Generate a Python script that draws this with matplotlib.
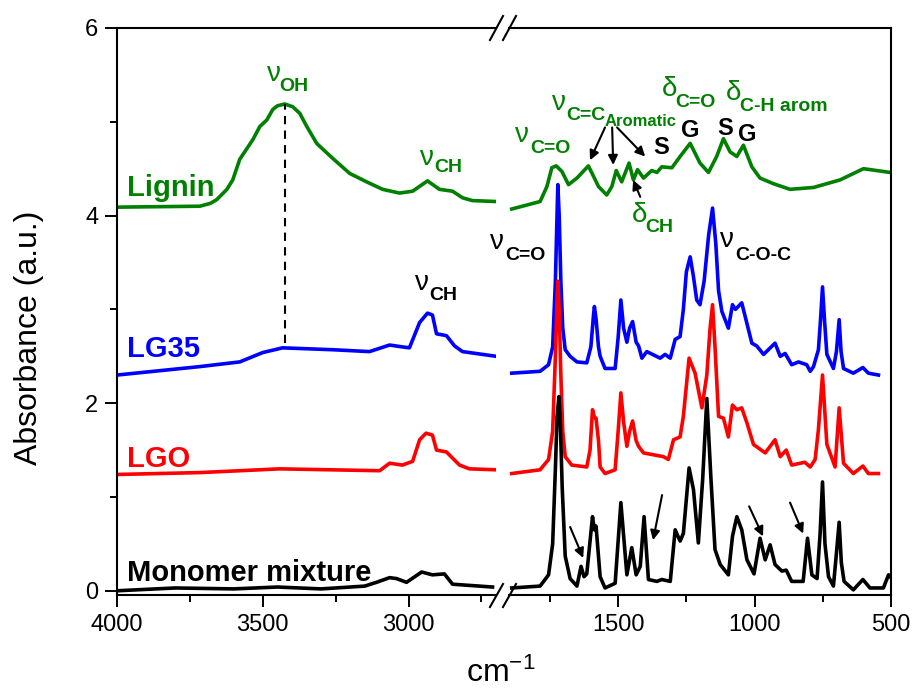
import numpy as np
import matplotlib.pyplot as plt
from matplotlib.lines import Line2D

plt.rcParams['font.family'] = ['Liberation Sans', 'DejaVu Sans']
plt.rcParams['mathtext.fontset'] = 'custom'
plt.rcParams['mathtext.rm'] = 'Liberation Sans'
plt.rcParams['mathtext.it'] = 'Liberation Sans:italic'
plt.rcParams['mathtext.bf'] = 'Liberation Sans:bold'


# ---- spectra, high wavenumber part (4000-2700 cm-1) ----
lignin_hi_wn = [4000, 3716, 3680, 3658, 3623, 3603, 3579, 3534, 3510, 3486, 3466, 3450, 3425,
                3397, 3373, 3349, 3315, 3305, 3260, 3202, 3144, 3089, 3031, 2986, 2935, 2894,
                2849, 2815, 2781, 2700]
lignin_hi_a = [4.09, 4.10, 4.13, 4.17, 4.28, 4.38, 4.60, 4.81, 4.95, 5.02, 5.13, 5.17, 5.19,
               5.16, 5.09, 4.95, 4.77, 4.74, 4.61, 4.45, 4.36, 4.28, 4.24, 4.26, 4.37, 4.28,
               4.26, 4.19, 4.16, 4.15]

lg35_hi_wn = [4000, 3716, 3579, 3500, 3432, 3260, 3134, 3065, 3021, 2997, 2962, 2935, 2918,
              2904, 2870, 2842, 2815, 2700]
lg35_hi_a = [2.30, 2.39, 2.44, 2.54, 2.59, 2.57, 2.55, 2.62, 2.60, 2.59, 2.86, 2.96, 2.94,
             2.74, 2.72, 2.61, 2.55, 2.50]

lgo_hi_wn = [4000, 3716, 3442, 3099, 3065, 3021, 2986, 2962, 2940, 2918, 2904, 2870, 2825,
             2791, 2700]
lgo_hi_a = [1.24, 1.26, 1.30, 1.28, 1.36, 1.34, 1.38, 1.61, 1.68, 1.66, 1.50, 1.48, 1.34,
            1.30, 1.29]

mono_hi_wn = [4000, 3800, 3600, 3450, 3300, 3150, 3110, 3065, 3041, 3007, 2955, 2918, 2877,
              2849, 2712]
mono_hi_a = [0.00, 0.03, 0.02, 0.04, 0.02, 0.05, 0.09, 0.14, 0.13, 0.09, 0.20, 0.17, 0.18,
             0.07, 0.04]

# ---- spectra, fingerprint part (1900-500 cm-1) ----
lignin_lo_wn = [1890, 1786, 1761, 1743, 1727, 1706, 1682, 1651, 1609, 1572, 1542, 1523, 1507,
                1487, 1460, 1444, 1429, 1407, 1377, 1358, 1340, 1303, 1273, 1236, 1200, 1169,
                1139, 1114, 1090, 1065, 1041, 1010, 980, 931, 870, 784, 687, 601, 503]
lignin_lo_a = [4.07, 4.15, 4.31, 4.51, 4.53, 4.47, 4.33, 4.40, 4.53, 4.31, 4.22, 4.31, 4.48,
               4.36, 4.56, 4.38, 4.49, 4.40, 4.48, 4.46, 4.52, 4.51, 4.63, 4.77, 4.56, 4.46,
               4.63, 4.82, 4.68, 4.63, 4.75, 4.52, 4.40, 4.34, 4.28, 4.30, 4.38, 4.50, 4.46]

lg35_lo_wn = [1890, 1786, 1755, 1740, 1730, 1724, 1721, 1716, 1710, 1703, 1694, 1676, 1651,
              1615, 1600, 1590, 1587, 1581, 1572, 1566, 1548, 1511, 1500, 1490, 1480, 1468,
              1458, 1447, 1434, 1425, 1413, 1395, 1346, 1328, 1309, 1291, 1273, 1261, 1250,
              1236, 1224, 1212, 1200, 1185, 1168, 1154, 1142, 1132, 1120, 1096, 1081, 1070,
              1047, 1028, 1010, 992, 967, 925, 906, 888, 864, 839, 809, 796, 784, 766, 758,
              751, 744, 735, 711, 700, 690, 683, 674, 638, 603, 583, 546]
lg35_lo_a = [2.32, 2.34, 2.41, 2.60, 3.30, 4.00, 4.33, 4.00, 3.30, 2.80, 2.57, 2.50, 2.44,
             2.43, 2.60, 2.95, 3.03, 2.90, 2.60, 2.50, 2.37, 2.37, 2.70, 3.10, 2.80, 2.65,
             2.80, 2.87, 2.65, 2.61, 2.48, 2.55, 2.48, 2.52, 2.48, 2.68, 2.71, 3.00, 3.40,
             3.56, 3.35, 3.10, 3.05, 3.30, 3.80, 4.08, 3.70, 3.20, 2.98, 2.80, 3.05, 3.00,
             3.07, 2.85, 2.64, 2.61, 2.52, 2.64, 2.50, 2.53, 2.41, 2.44, 2.41, 2.34, 2.39,
             2.57, 2.90, 3.24, 2.90, 2.52, 2.37, 2.55, 2.89, 2.55, 2.37, 2.32, 2.38, 2.32, 2.30]

lgo_lo_wn = [1890, 1786, 1755, 1740, 1730, 1724, 1721, 1716, 1710, 1703, 1694, 1670, 1615,
             1603, 1594, 1587, 1581, 1572, 1566, 1548, 1511, 1500, 1490, 1480, 1468, 1458,
             1447, 1434, 1425, 1407, 1371, 1334, 1316, 1297, 1273, 1261, 1240, 1218, 1193,
             1175, 1163, 1154, 1145, 1132, 1114, 1096, 1081, 1065, 1047, 1028, 1004, 961,
             925, 906, 884, 864, 816, 796, 778, 766, 751, 735, 705, 690, 674, 638, 603, 583, 546]
lgo_lo_a = [1.25, 1.29, 1.40, 1.70, 2.50, 3.10, 3.30, 3.00, 2.30, 1.70, 1.43, 1.34, 1.32,
            1.50, 1.93, 1.85, 1.84, 1.60, 1.32, 1.25, 1.29, 1.70, 2.11, 1.80, 1.54, 1.70,
            1.81, 1.60, 1.54, 1.47, 1.45, 1.43, 1.40, 1.61, 1.64, 1.86, 2.48, 2.32, 1.95,
            2.30, 2.80, 3.05, 2.60, 1.86, 1.84, 1.64, 1.98, 1.93, 1.95, 1.79, 1.56, 1.47,
            1.61, 1.43, 1.50, 1.34, 1.37, 1.32, 1.40, 1.72, 2.30, 1.56, 1.32, 1.95, 1.36,
            1.25, 1.33, 1.25, 1.25]

mono_lo_wn = [1890, 1786, 1755, 1740, 1730, 1724, 1717, 1712, 1705, 1694, 1676, 1651, 1636,
              1625, 1615, 1594, 1587, 1581, 1566, 1548, 1511, 1490, 1468, 1450, 1434, 1419,
              1405, 1389, 1358, 1340, 1309, 1291, 1273, 1261, 1240, 1224, 1206, 1190, 1175,
              1160, 1145, 1126, 1096, 1081, 1065, 1047, 1028, 1002, 980, 961, 943, 925, 900,
              884, 864, 822, 806, 790, 771, 760, 751, 742, 729, 711, 700, 690, 682, 672, 638,
              603, 577, 528, 509, 503]
mono_lo_a = [0.03, 0.05, 0.17, 0.50, 1.30, 1.85, 2.07, 1.80, 1.10, 0.37, 0.13, 0.05, 0.26,
             0.15, 0.18, 0.79, 0.65, 0.69, 0.15, 0.03, 0.08, 0.94, 0.17, 0.46, 0.17, 0.26,
             0.79, 0.12, 0.10, 0.12, 0.10, 0.65, 0.53, 0.61, 1.31, 1.08, 0.51, 1.20, 2.05,
             1.20, 0.44, 0.28, 0.17, 0.58, 0.79, 0.65, 0.33, 0.18, 0.56, 0.33, 0.49, 0.28, 0.21,
             0.22, 0.10, 0.10, 0.56, 0.17, 0.13, 0.60, 1.16, 0.50, 0.15, 0.05, 0.40, 0.73, 0.30,
             0.10, 0.01, 0.12, 0.03, 0.03, 0.17, 0.15]

GREEN = '#008000'
BLUE = '#0000ff'
RED = '#ff0000'
BLACK = '#000000'

W, H = 913, 689


def fx(px):
    return px / W


def fy(py):
    return 1 - py / H


fig = plt.figure(figsize=(W / 100, H / 100), dpi=100)

ax1 = fig.add_axes([fx(117), fy(595), fx(496) - fx(117), fy(28) - fy(595)])
ax2 = fig.add_axes([fx(509), fy(595), fx(891) - fx(509), fy(28) - fy(595)])

lw = 2.6
ax1.plot(lignin_hi_wn, lignin_hi_a, color=GREEN, lw=lw)
ax1.plot(lg35_hi_wn, lg35_hi_a, color=BLUE, lw=lw)
ax1.plot(lgo_hi_wn, lgo_hi_a, color=RED, lw=lw)
ax1.plot(mono_hi_wn, mono_hi_a, color=BLACK, lw=lw)

ax2.plot(lignin_lo_wn, lignin_lo_a, color=GREEN, lw=lw)
ax2.plot(lg35_lo_wn, lg35_lo_a, color=BLUE, lw=lw)
ax2.plot(lgo_lo_wn, lgo_lo_a, color=RED, lw=lw)
ax2.plot(mono_lo_wn, mono_lo_a, color=BLACK, lw=lw)

# dashed line from the OH band down to LG35
ax1.plot([3425, 3425], [2.64, 5.19], color='k', ls=(0, (4, 3)), lw=1.5)

for ax in (ax1, ax2):
    ax.set_ylim(-0.045, 6)
    for s in ax.spines.values():
        s.set_linewidth(1.5)
    ax.tick_params(which='major', direction='out', length=8.5, width=1.4, labelsize=17, pad=5)
    ax.tick_params(which='minor', direction='out', length=5, width=1.4)

ax1.set_xlim(4000, 2700)
ax1.set_xticks([4000, 3500, 3000])
ax1.set_xticks([3750, 3250, 2750], minor=True)
ax1.set_yticks([0, 2, 4, 6])
ax1.set_yticks([1, 3, 5], minor=True)
ax1.spines['right'].set_visible(False)

ax2.set_xlim(1900, 500)
ax2.set_xticks([1500, 1000, 500])
ax2.set_xticks([1750, 1250, 750], minor=True)
ax2.set_yticks([])
ax2.spines['left'].set_visible(False)

# break marks
for x0 in (490, 503):
    fig.add_artist(Line2D([fx(x0), fx(x0 + 13)], [fy(40), fy(16)], color='k', lw=1.5))
    fig.add_artist(Line2D([fx(x0), fx(x0 + 13)], [fy(607), fy(584)], color='k', lw=1.5))

fig.text(fx(29), fy(338), 'Absorbance (a.u.)', rotation=90, fontsize=23,
         ha='center', va='center')
fig.text(fx(501), fy(682), r'cm$^{-1}$', fontsize=23, ha='center', va='baseline')

# sample names
for y, name, c in [(4.21, 'Lignin', GREEN), (2.49, 'LG35', BLUE),
                   (1.32, 'LGO', RED), (0.10, 'Monomer mixture', BLACK)]:
    ax1.text(3965, y, name, color=c, fontsize=21, fontweight='bold', va='baseline')


def band(ax, x, y, sym, xs, ys, sub, color):
    ax.text(x, y, sym, color=color, fontsize=20, va='baseline', clip_on=False)
    ax.text(xs, ys, sub, color=color, fontsize=14, fontweight='bold',
            va='baseline', clip_on=False)


band(ax1, 3486, 5.43, 'ν', 3442, 5.33, 'OH', GREEN)
band(ax1, 2962, 4.54, 'ν', 2911, 4.46, 'CH', GREEN)
band(ax1, 2979, 3.21, 'ν', 2928, 3.10, 'CH', BLACK)

band(ax2, 1877, 4.78, 'ν', 1822, 4.67, 'C=O', GREEN)
band(ax2, 1742, 5.13, 'ν', 1691, 5.02, 'C=C', GREEN)
ax2.text(1548, 4.95, 'Aromatic', color=GREEN, fontsize=12, fontweight='bold', va='baseline')
band(ax2, 1339, 5.27, 'δ', 1291, 5.16, 'C=O', GREEN)
band(ax2, 1104, 5.23, 'δ', 1053, 5.11, 'C-H arom', GREEN)
band(ax2, 1449, 3.93, 'δ', 1401, 3.82, 'CH', GREEN)
band(ax2, 1969, 3.64, 'ν', 1914, 3.53, 'C=O', BLACK)
band(ax2, 1126, 3.67, 'ν', 1071, 3.53, 'C-O-C', BLACK)

for x, y, s in [(1372, 4.66, 'S'), (1269, 4.84, 'G'), (1137, 4.86, 'S'), (1060, 4.79, 'G')]:
    ax2.text(x, y, s, fontsize=17, fontweight='bold', va='baseline')

arrows = [((1548, 4.94), (1603, 4.59)),
          ((1522, 4.94), (1518, 4.54)),
          ((1504, 4.94), (1401, 4.63)),
          ((1419, 4.20), (1445, 4.38)),
          ((1676, 0.68), (1628, 0.35)),
          ((1339, 1.02), (1372, 0.54)),
          ((1020, 0.90), (969, 0.58)),
          ((870, 0.94), (822, 0.61))]
for tail, head in arrows:
    ax2.annotate('', xy=head, xytext=tail,
                 arrowprops=dict(arrowstyle='-|>', color='k', lw=1.5,
                                 mutation_scale=14, shrinkA=0, shrinkB=0))

fig.savefig('out.png', dpi=100)
